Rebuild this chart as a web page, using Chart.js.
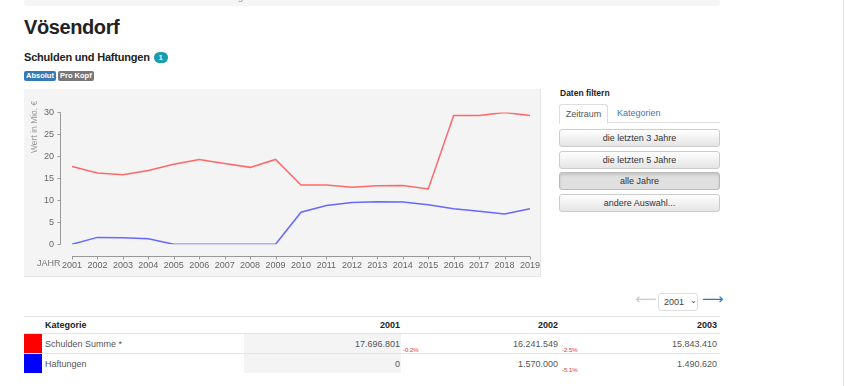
<!DOCTYPE html>
<html lang="de">
<head>
<meta charset="utf-8">
<title>Vösendorf – Schulden und Haftungen</title>
<script src="https://cdn.jsdelivr.net/npm/chart.js@4/dist/chart.umd.min.js"></script>
<style>
  body { margin: 0; width: 845px; height: 386px; overflow: hidden; background: #fff;
         font-family: "Liberation Sans", Arial, sans-serif; color: #333; position: relative; }
  .abs { position: absolute; white-space: nowrap; }
  .crumb { left: 24px; top: -10px; width: 696px; height: 16px; background: #f5f5f5; border-radius: 3px;
           font-size: 9px; color: #999; line-height: 14px; padding-left: 50px; box-sizing: border-box; }
  h1 { position: absolute; left: 24px; top: 16px; margin: 0; font-size: 20px; font-weight: bold;
       letter-spacing: -0.4px; color: #222; }
  h2 { position: absolute; left: 24px; top: 51px; margin: 0; font-size: 11px; font-weight: bold;
       letter-spacing: -0.2px; color: #222; }
  .badge { display: inline-block; background: #1a9bb0; color: #fff; font-size: 7px; border-radius: 6px;
           padding: 0 5px; height: 11px; line-height: 11px; vertical-align: 1px; margin-left: 1px; letter-spacing: 0; }
  .lbl { top: 71px; height: 10px; line-height: 10px; font-size: 7.5px; font-weight: bold; color: #fff;
         padding: 0 2px; border-radius: 2px; }
  .chartbox { left: 24px; top: 89px; width: 516px; height: 187px; background: #f4f4f4;
              border-right: 1px solid #e6e6e6; border-bottom: 1px solid #e6e6e6; }
  .chartbox canvas { position: absolute; left: 0; top: 0; }
  .jahr { left: 13px; top: 169px; font-size: 9px; color: #777; }
  .ytitle { left: 5px; top: 12px; width: 52px; height: 10px; line-height: 10px; font-size: 8.5px; color: #999;
            text-align: right; transform-origin: 0 0; transform: rotate(-90deg) translate(-52px, 0); }
  .filt { left: 560px; top: 88px; font-size: 8.5px; font-weight: bold; color: #222; }
  .tab { top: 104px; height: 18px; line-height: 18px; font-size: 9px; }
  .tabline { left: 559px; top: 122px; width: 161px; height: 1px; background: #ddd; }
  .btn { left: 559px; width: 159px; height: 16px; line-height: 16px; font-size: 9px; text-align: center; color: #333;
         border: 1px solid #ccc; border-radius: 3px; background: linear-gradient(#fff, #e4e4e4); }
  .btn.on { background: #e0e0e0; border-color: #bbb; box-shadow: inset 0 2px 3px rgba(0,0,0,0.12); }
  .arrow { top: 291px; font-family: "DejaVu Sans", sans-serif; font-size: 15px; line-height: 16px; }
  .hr { left: 24px; width: 696px; height: 1px; background: #e4e4e4; }
  .th { top: 320px; font-size: 9px; font-weight: bold; color: #222; }
  .td { font-size: 9px; color: #555; }
  .num { text-align: right; }
  .pct { font-size: 6px; color: #e33; }
  .cellbg { left: 244px; width: 157px; height: 19px; background: #f4f4f4; }
</style>
</head>
<body>
<div class="abs crumb">Home / Vösendorf / Schulden und Haftungen</div>
<h1>Vösendorf</h1>
<h2>Schulden und Haftungen <span class="badge">1</span></h2>
<div class="abs lbl" style="left:24px;background:#337ab7;">Absolut</div>
<div class="abs lbl" style="left:58px;background:#777;">Pro Kopf</div>

<div class="abs chartbox">
  <canvas id="chartSchulden" width="517" height="188"></canvas>
  <div class="abs ytitle">Wert in Mio. €</div>
  <div class="abs jahr">JAHR</div>
</div>

<div class="abs filt">Daten filtern</div>
<div class="abs tab" style="left:559px;width:47px;border:1px solid #ddd;border-bottom:1px solid #fff;border-radius:3px 3px 0 0;text-align:center;color:#555;background:#fff;z-index:2;">Zeitraum</div>
<div class="abs tab" style="left:617px;color:#337ab7;">Kategorien</div>
<div class="abs tabline"></div>
<div class="abs btn" style="top:129px;">die letzten 3 Jahre</div>
<div class="abs btn" style="top:151px;">die letzten 5 Jahre</div>
<div class="abs btn on" style="top:172px;">alle Jahre</div>
<div class="abs btn" style="top:194px;">andere Auswahl...</div>

<div class="abs arrow" style="left:635px;color:#ccc;">&#10229;</div>
<div class="abs" style="left:658px;top:293px;border:1px solid #ddd;border-radius:3px;font-size:9px;line-height:16px;color:#444;padding-left:5px;box-sizing:border-box;width:40px;height:18px;">2001 <span style="font-size:8px;margin-left:3px;position:relative;top:-2px;">&#8964;</span></div>
<div class="abs arrow" style="left:702px;color:#337ab7;">&#10230;</div>

<div class="abs hr" style="top:316px;"></div>
<div class="abs th" style="left:45px;">Kategorie</div>
<div class="abs th num" style="left:340px;width:60px;">2001</div>
<div class="abs th num" style="left:498px;width:60px;">2002</div>
<div class="abs th num" style="left:657px;width:60px;">2003</div>
<div class="abs hr" style="top:333px;"></div>
<div class="abs cellbg" style="top:334px;"></div>
<div class="abs" style="left:24px;top:334px;width:18px;height:19px;background:#f00;"></div>
<div class="abs td" style="left:45px;top:339px;">Schulden Summe *</div>
<div class="abs td num" style="left:300px;width:100px;top:339px;">17.696.801</div>
<div class="abs pct" style="left:403px;top:347px;">-0.2%</div>
<div class="abs td num" style="left:458px;width:100px;top:339px;">16.241.549</div>
<div class="abs pct" style="left:562px;top:347px;">-2.5%</div>
<div class="abs td num" style="left:617px;width:100px;top:339px;">15.843.410</div>
<div class="abs hr" style="top:353px;"></div>
<div class="abs cellbg" style="top:354px;"></div>
<div class="abs" style="left:24px;top:354px;width:18px;height:19px;background:#00f;"></div>
<div class="abs td" style="left:45px;top:359px;">Haftungen</div>
<div class="abs td num" style="left:300px;width:100px;top:359px;">0</div>
<div class="abs td num" style="left:458px;width:100px;top:359px;">1.570.000</div>
<div class="abs pct" style="left:562px;top:367px;">-5.1%</div>
<div class="abs td num" style="left:617px;width:100px;top:359px;">1.490.620</div>
<div class="abs" style="left:843px;top:0;width:1px;height:386px;background:#e6e6e6;"></div>

<script>
// values in Mio. €
const JAHRE = ['2001', '2002', '2003', '2004', '2005', '2006', '2007', '2008', '2009', '2010',
               '2011', '2012', '2013', '2014', '2015', '2016', '2017', '2018', '2019'];
const SCHULDEN = [17.70, 16.24, 15.84, 16.8, 18.2, 19.3, 18.4, 17.5, 19.3, 13.5,
                  13.5, 13.0, 13.3, 13.4, 12.6, 29.3, 29.3, 30.0, 29.3];
const HAFTUNGEN = [0, 1.57, 1.49, 1.26, 0, 0, 0, 0, 0, 7.3,
                   8.8, 9.5, 9.7, 9.6, 9.0, 8.1, 7.5, 6.9, 8.1];
const Y_TICKS = [0, 5, 10, 15, 20, 25, 30];

const AXIS_COLOR = '#999';
const AXIS_GAP = 12;

// d3-style detached axes: y line left of the plot, x line below it
const offsetAxes = {
  id: 'offsetAxes',
  afterDraw(chart) {
    const { ctx, chartArea, scales } = chart;
    const x = scales.x, y = scales.y;
    const ax = chartArea.left - AXIS_GAP + 0.5;
    const ay = Math.round(chartArea.bottom + AXIS_GAP) + 0.5;
    ctx.save();
    ctx.strokeStyle = AXIS_COLOR;
    ctx.lineWidth = 1;
    ctx.beginPath();
    ctx.moveTo(ax, y.getPixelForValue(Y_TICKS[Y_TICKS.length - 1]));
    ctx.lineTo(ax, y.getPixelForValue(Y_TICKS[0]));
    Y_TICKS.forEach(v => {
      const py = Math.round(y.getPixelForValue(v)) + 0.5;
      ctx.moveTo(ax - 3, py);
      ctx.lineTo(ax, py);
    });
    ctx.moveTo(x.getPixelForValue(0), ay);
    ctx.lineTo(x.getPixelForValue(JAHRE.length - 1), ay);
    JAHRE.forEach((j, i) => {
      const px = Math.round(x.getPixelForValue(i)) + 0.5;
      ctx.moveTo(px, ay);
      ctx.lineTo(px, ay + 3);
    });
    ctx.stroke();
    ctx.restore();
  }
};

function createSchuldenChart() {
  const ctx = document.getElementById('chartSchulden');
  if (!ctx) return;

  new Chart(ctx, {
    type: 'line',
    data: {
      labels: JAHRE,
      datasets: [
        {
          label: 'Schulden Summe *',
          data: SCHULDEN,
          borderColor: '#ff6868',
          borderWidth: 1.5,
          pointRadius: 0,
          tension: 0,
          fill: false
        },
        {
          label: 'Haftungen',
          data: HAFTUNGEN,
          borderColor: '#6868ff',
          borderWidth: 1.5,
          pointRadius: 0,
          tension: 0,
          fill: false
        }
      ]
    },
    options: {
      responsive: false,
      animation: false,
      devicePixelRatio: 1,
      layout: { padding: { top: 12.7, right: 11, bottom: 0, left: 0 } },
      plugins: {
        legend: { display: false },
        tooltip: { enabled: false }
      },
      scales: {
        x: {
          offset: false,
          grid: { display: false, drawTicks: false },
          border: { display: false },
          ticks: {
            color: '#666',
            font: { family: "'Liberation Sans', Arial, sans-serif", size: 9 },
            padding: 16,
            maxRotation: 0,
            autoSkip: false
          },
          afterFit: (scale) => {
            scale.height = 32.7;
            scale.paddingLeft = 0;
            scale.paddingRight = 0;
          }
        },
        y: {
          min: 0,
          max: 30,
          grid: { display: false, drawTicks: false },
          border: { display: false },
          ticks: {
            stepSize: 5,
            color: '#666',
            font: { family: "'Liberation Sans', Arial, sans-serif", size: 9 },
            padding: 18
          },
          afterFit: (scale) => { scale.width = 48; }
        }
      }
    },
    plugins: [offsetAxes]
  });
}

document.addEventListener('DOMContentLoaded', createSchuldenChart);
</script>
</body>
</html>
